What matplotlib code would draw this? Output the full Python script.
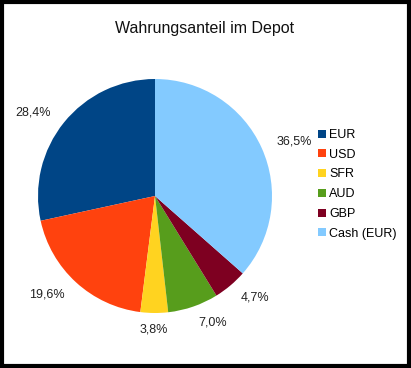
import matplotlib.pyplot as plt
from matplotlib.patches import Rectangle

plt.rcParams['font.family'] = ['Liberation Sans', 'DejaVu Sans']

# Daten
labels = ['EUR', 'USD', 'SFR', 'AUD', 'GBP', 'Cash (EUR)']
anteile = [28.4, 19.6, 3.8, 7.0, 4.7, 36.5]
farben = ['#004586', '#ff420e', '#ffd320', '#579d1c', '#7e0021', '#83caff']

fig = plt.figure(figsize=(4.11, 3.68), dpi=100)

# Pie-Achse
ax = fig.add_axes([38 / 411, 55 / 368, 234 / 411, 234 / 368])
wedges, texts = ax.pie(anteile, colors=farben, startangle=90, counterclock=True,
                       labels=[f'{v:.1f}%'.replace('.', ',') for v in anteile],
                       labeldistance=1.14, radius=1.0,
                       textprops=dict(fontsize=9, color='#222222'))
for t in texts:
    t.set_clip_on(False)
texts[2].set_ha('center')
ax.set_xlim(-1, 1)
ax.set_ylim(-1, 1)
ax.set_aspect('equal')

fig.text(205 / 411, 1 - 29 / 368, 'Wahrungsanteil im Depot', ha='center', va='center',
         fontsize=11.5, color='#111111')

# Legende
fig.legend(wedges, labels, loc='upper left', bbox_to_anchor=(313 / 411, 1 - 124 / 368),
           frameon=False, fontsize=9, handlelength=0.6, handleheight=0.6,
           handletextpad=0.3, labelspacing=0.62, borderaxespad=0)

# Rahmen
fig.add_artist(Rectangle((0.004, 0.005), 0.992, 0.99, transform=fig.transFigure,
                         fill=False, edgecolor='black', linewidth=3))

fig.savefig('out.png', dpi=100)
